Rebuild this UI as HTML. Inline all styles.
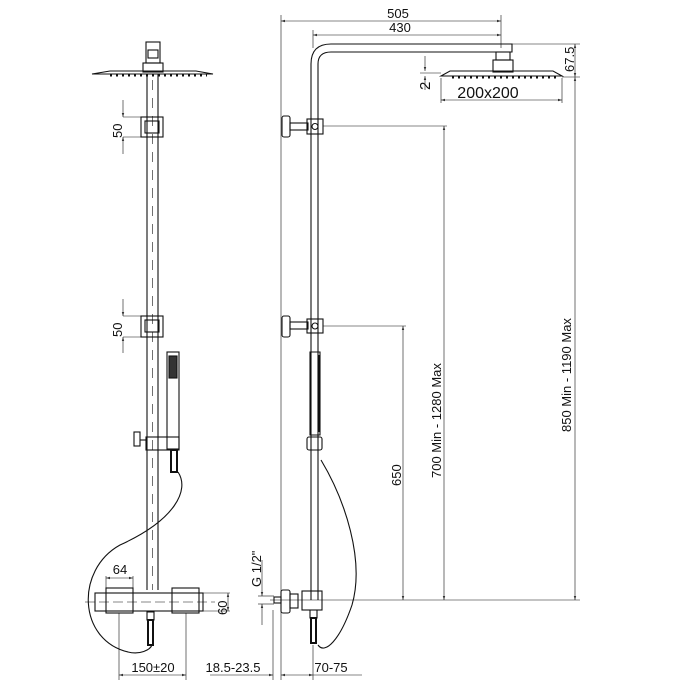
<!DOCTYPE html>
<html><head><style>body{margin:0;background:#fff}svg{display:block}text{font-family:"Liberation Sans",sans-serif;fill:#111}</style></head><body>
<svg width="700" height="700" viewBox="0 0 700 700" xmlns="http://www.w3.org/2000/svg">
<defs>
<marker id="a" viewBox="0 0 10 10" refX="10" refY="5" markerWidth="7" markerHeight="7" orient="auto-start-reverse"><path d="M0,2 L10,5 L0,8z" fill="#333"/></marker>
</defs>
<g fill="none" stroke="#111" stroke-width="1.1">
<!-- LEFT VIEW -->
<rect x="146" y="42" width="14" height="21"/><rect x="148" y="50" width="10" height="8"/>
<rect x="143" y="63" width="20" height="9"/>
<path d="M92,74 L110,71 L196,71 L213,74 Z"/>
<path d="M110,75 h97" stroke-dasharray="2 4" stroke-width="3"/>
<line x1="147" y1="74" x2="147" y2="590"/><line x1="158" y1="74" x2="158" y2="590"/>
<line x1="152.5" y1="80" x2="152.5" y2="590" stroke-dasharray="10 8" stroke-width="0.6"/>
<rect x="141" y="117" width="22" height="20"/><rect x="145" y="121" width="14" height="12"/>
<rect x="141" y="316" width="22" height="21"/><rect x="145" y="320" width="14" height="12"/>
<line x1="123" y1="117" x2="141" y2="117" stroke-width="0.6"/><line x1="123" y1="137" x2="141" y2="137" stroke-width="0.6"/>
<line x1="123" y1="100" x2="123" y2="117" marker-end="url(#a)" stroke-width="0.6"/><line x1="123" y1="154" x2="123" y2="137" marker-end="url(#a)" stroke-width="0.6"/>
<line x1="123" y1="316" x2="141" y2="316" stroke-width="0.6"/><line x1="123" y1="337" x2="141" y2="337" stroke-width="0.6"/>
<line x1="123" y1="299" x2="123" y2="316" marker-end="url(#a)" stroke-width="0.6"/><line x1="123" y1="353" x2="123" y2="337" marker-end="url(#a)" stroke-width="0.6"/>
<!-- handshower -->
<rect x="167" y="352" width="12" height="97"/><rect x="169" y="356" width="8" height="22" fill="#333"/>
<rect x="146" y="437" width="33" height="13"/><rect x="134" y="432" width="6" height="14"/><line x1="140" y1="440" x2="146" y2="440"/>
<path d="M171,450 h6 v22 h-6z" stroke-width="2"/>
<path d="M178,472 C190,490 175,520 120,545 C75,570 78,640 128,652 C140,655 150,650 152,645"/>
<!-- mixer -->
<rect x="95" y="593" width="108" height="18"/>
<rect x="106" y="588" width="27" height="25"/><rect x="172" y="588" width="27" height="25"/>
<line x1="85" y1="602" x2="215" y2="602" stroke-width="0.6" stroke-dasharray="10 4"/>
<path d="M147,612 h7 v8 h-7z"/><path d="M148,620 h5 v25 h-5z" stroke-width="2"/>
<line x1="106" y1="576" x2="106" y2="588" stroke-width="0.6"/><line x1="133" y1="576" x2="133" y2="588" stroke-width="0.6"/>
<line x1="106" y1="578" x2="133" y2="578" stroke-width="0.6" marker-start="url(#a)" marker-end="url(#a)"/>
<line x1="203" y1="593" x2="230" y2="593" stroke-width="0.6"/><line x1="203" y1="611" x2="230" y2="611" stroke-width="0.6"/>
<line x1="228" y1="593" x2="228" y2="611" stroke-width="0.6" marker-start="url(#a)" marker-end="url(#a)"/>
<line x1="119" y1="613" x2="119" y2="680" stroke-width="0.6"/><line x1="186" y1="613" x2="186" y2="680" stroke-width="0.6"/>
<line x1="119" y1="675" x2="186" y2="675" stroke-width="0.6" marker-start="url(#a)" marker-end="url(#a)"/>
<line x1="210" y1="675" x2="273" y2="675" stroke-width="0.6" marker-end="url(#a)"/>
<!-- RIGHT VIEW -->
<line x1="281" y1="15" x2="281" y2="680" stroke-width="0.6"/>
<line x1="273" y1="610" x2="273" y2="680" stroke-width="0.6"/>
<line x1="281" y1="21" x2="501" y2="21" stroke-width="0.6" marker-start="url(#a)" marker-end="url(#a)"/>
<line x1="313" y1="35" x2="501" y2="35" stroke-width="0.6" marker-start="url(#a)" marker-end="url(#a)"/>
<line x1="501" y1="15" x2="501" y2="48" stroke-width="0.6"/><line x1="313" y1="30" x2="313" y2="48" stroke-width="0.6"/>
<path d="M311,600 V64 Q311,44 331,44 H512 v8 H331 Q318,52 318,64 V600"/>
<rect x="496" y="52" width="14" height="8"/><rect x="493" y="60" width="20" height="12"/>
<path d="M441,76 L450,71 L553,71 L562,76 Z"/>
<path d="M452,77 h107" stroke-dasharray="2 4" stroke-width="3"/>
<line x1="512" y1="44" x2="580" y2="44" stroke-width="0.6"/><line x1="562" y1="77" x2="580" y2="77" stroke-width="0.6"/>
<line x1="575" y1="44" x2="575" y2="77" stroke-width="0.6" marker-start="url(#a)" marker-end="url(#a)"/>
<line x1="575" y1="77" x2="575" y2="600" stroke-width="0.6" marker-start="url(#a)" marker-end="url(#a)"/>
<line x1="425" y1="56" x2="425" y2="71" stroke-width="0.6" marker-end="url(#a)"/><line x1="425" y1="90" x2="425" y2="76" stroke-width="0.6" marker-end="url(#a)"/>
<line x1="420" y1="73" x2="441" y2="73" stroke-width="0.6"/>
<line x1="441" y1="78" x2="441" y2="103" stroke-width="0.6"/><line x1="562" y1="78" x2="562" y2="103" stroke-width="0.6"/>
<line x1="441" y1="100" x2="562" y2="100" stroke-width="0.6" marker-start="url(#a)" marker-end="url(#a)"/>
<!-- brackets -->
<rect x="282" y="116" width="8" height="21" rx="2"/><rect x="290" y="123" width="18" height="7"/>
<rect x="307" y="119" width="16" height="15"/><circle cx="315" cy="126.5" r="3"/>
<line x1="323" y1="126" x2="447" y2="126" stroke-width="0.6"/>
<line x1="444" y1="126" x2="444" y2="600" stroke-width="0.6" marker-start="url(#a)" marker-end="url(#a)"/>
<rect x="282" y="316" width="8" height="21" rx="2"/><rect x="290" y="322" width="18" height="7"/>
<rect x="307" y="319" width="16" height="14"/><circle cx="315" cy="326" r="3"/>
<line x1="323" y1="326" x2="406" y2="326" stroke-width="0.6"/>
<line x1="403" y1="326" x2="403" y2="600" stroke-width="0.6" marker-start="url(#a)" marker-end="url(#a)"/>
<!-- handshower right -->
<path d="M310,352 L320,352 L320,435 L310,435Z"/><line x1="319" y1="355" x2="319" y2="432" stroke-width="2"/>
<rect x="307" y="437" width="15" height="13" rx="2"/>
<path d="M321,460 C345,500 365,560 352,605 C340,640 325,655 318,645"/>
<!-- bottom fitting -->
<line x1="270" y1="600" x2="580" y2="600" stroke-width="0.6"/>
<rect x="281" y="590" width="9" height="23" rx="2"/><rect x="290" y="594" width="8" height="14"/>
<rect x="274" y="597" width="7" height="6"/>
<rect x="302" y="591" width="20" height="19"/>
<path d="M310,610 h7 v8 h-7z"/><path d="M311,618 h5 v25 h-5z" stroke-width="2"/>
<line x1="262" y1="560" x2="262" y2="596" stroke-width="0.6" marker-end="url(#a)"/><line x1="262" y1="625" x2="262" y2="604" stroke-width="0.6" marker-end="url(#a)"/>
<line x1="258" y1="596" x2="274" y2="596" stroke-width="0.6"/><line x1="258" y1="604" x2="274" y2="604" stroke-width="0.6"/>
<line x1="313" y1="645" x2="313" y2="680" stroke-width="0.6"/>
<line x1="281" y1="675" x2="313" y2="675" stroke-width="0.6" marker-start="url(#a)" marker-end="url(#a)"/>
<line x1="313" y1="675" x2="362" y2="675" stroke-width="0.6"/>
</g>
<g font-size="13">
<text x="398" y="18" text-anchor="middle">505</text>
<text x="400" y="32" text-anchor="middle">430</text>
<text x="488" y="98" text-anchor="middle" font-size="16">200x200</text>
<text transform="translate(430,90) rotate(-90)" font-size="15">2</text>
<text transform="translate(574,72) rotate(-90)">67.5</text>
<text transform="translate(571,432) rotate(-90)">850 Min - 1190 Max</text>
<text transform="translate(441,478) rotate(-90)">700 Min - 1280 Max</text>
<text transform="translate(401,486) rotate(-90)">650</text>
<text transform="translate(122,138) rotate(-90)">50</text>
<text transform="translate(122,337) rotate(-90)">50</text>
<text x="120" y="574" text-anchor="middle">64</text>
<text transform="translate(227,615) rotate(-90)">60</text>
<text x="153" y="672" text-anchor="middle">150±20</text>
<text x="233" y="672" text-anchor="middle">18.5-23.5</text>
<text x="331" y="672" text-anchor="middle">70-75</text>
<text transform="translate(261,587) rotate(-90)">G 1/2"</text>
</g>
</svg>
</body></html>
